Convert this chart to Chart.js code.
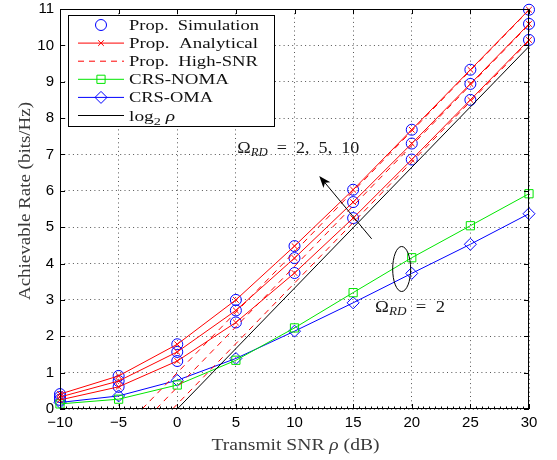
<!DOCTYPE html>
<html>
<head>
<meta charset="utf-8">
<script src="https://cdn.jsdelivr.net/npm/chart.js@4.4.1/dist/chart.umd.min.js"></script>
<style>
  html, body { margin: 0; padding: 0; background: #fff; }
</style>
</head>
<body>
<canvas id="rateChart" width="557" height="460"></canvas>
<script>
// values
const snrDb = [-10, -5, 0, 5, 10, 15, 20, 25, 30];
const propOmega2 = [0.25, 0.61, 1.32, 2.38, 3.74, 5.25, 6.86, 8.50, 10.15];
const propOmega5 = [0.33, 0.77, 1.57, 2.71, 4.15, 5.69, 7.30, 8.94, 10.59];
const propOmega10 = [0.41, 0.91, 1.78, 3.00, 4.48, 6.03, 7.68, 9.33, 10.98];
const crsNoma = [0.14, 0.27, 0.66, 1.34, 2.23, 3.20, 4.16, 5.04, 5.92];
const crsOma = [0.18, 0.36, 0.79, 1.39, 2.14, 2.92, 3.73, 4.53, 5.37];

// high-SNR asymptotes: where they leave the axis and where they end
const highSnrX2 = [-0.4, 30];
const highSnrY2 = [0, 10.12];
const highSnrX5 = [-1.8, 30];
const highSnrY5 = [0, 10.57];
const highSnrX10 = [-3.0, 30];
const highSnrY10 = [0, 10.97];
const log2X = [0, 30];
const log2Y = [0, 9.97];

const xTicks = [-10, -5, 0, 5, 10, 15, 20, 25, 30];
const yTicks = [0, 1, 2, 3, 4, 5, 6, 7, 8, 9, 10, 11];

const RED = '#ff0000', GREEN = '#00e600', BLUE = '#0000ff';
const SERIF = '"Liberation Serif", "Times New Roman", serif';

function pts(xs, ys) {
    return xs.map((x, i) => ({ x: x, y: ys[i] }));
}

function line(data, color, extra) {
    return Object.assign({
        data: data,
        showLine: true,
        borderColor: color,
        borderWidth: 1,
        pointRadius: 0,
        backgroundColor: color,
        clip: false
    }, extra || {});
}

const datasets = [];
[[highSnrX2, highSnrY2], [highSnrX5, highSnrY5], [highSnrX10, highSnrY10]].forEach(a => {
    datasets.push(line(pts(a[0], a[1]), RED, { borderDash: [6, 5] }));
});
datasets.push(line(pts(log2X, log2Y), '#000'));
[propOmega2, propOmega5, propOmega10].forEach(v => {
    datasets.push(line(pts(snrDb, v), RED, {
        pointStyle: 'crossRot', pointRadius: 4, pointBorderColor: RED, pointBorderWidth: 1
    }));
});
datasets.push(line(pts(snrDb, crsNoma), GREEN, {
    pointStyle: 'rect', pointRadius: 5.8, pointBackgroundColor: 'rgba(0,0,0,0)', pointBorderColor: GREEN
}));
datasets.push(line(pts(snrDb, crsOma), BLUE, {
    pointStyle: 'rectRot', pointRadius: 6, pointBackgroundColor: 'rgba(0,0,0,0)', pointBorderColor: BLUE
}));
[propOmega2, propOmega5, propOmega10].forEach(v => {
    datasets.push({
        data: pts(snrDb, v),
        showLine: false,
        pointStyle: 'circle',
        pointRadius: 5.5,
        pointBorderWidth: 1,
        pointBorderColor: BLUE,
        pointBackgroundColor: 'rgba(0,0,0,0)',
        clip: false
    });
});

// draws mixed-font text stretched to a given width
function drawRuns(ctx, runs, x, y, width, align) {
    ctx.save();
    let natural = 0;
    runs.forEach(r => { ctx.font = r[1]; natural += ctx.measureText(r[0]).width; });
    const sx = width ? width / natural : 1;
    ctx.translate(x, y);
    ctx.scale(sx, 1);
    let cx = align === 'center' ? -natural / 2 : 0;
    ctx.textBaseline = 'alphabetic';
    ctx.textAlign = 'left';
    runs.forEach(r => {
        ctx.font = r[1];
        ctx.fillText(r[0], cx, r[2] || 0);
        cx += ctx.measureText(r[0]).width;
    });
    ctx.restore();
}

const legendItems = [
    { runs: [['Prop.  Simulation', '15px ' + SERIF]], w: 130, marker: 'circle', r: 5.5, mc: BLUE },
    { runs: [['Prop.  Analytical', '15px ' + SERIF]], w: 129, line: RED, marker: 'crossRot', r: 4, mc: RED },
    { runs: [['Prop.  High-SNR', '15px ' + SERIF]], w: 129, line: RED, dash: [6, 5] },
    { runs: [['CRS-NOMA', '15px ' + SERIF]], w: 100, line: GREEN, marker: 'rect', r: 5.8, mc: GREEN },
    { runs: [['CRS-OMA', '15px ' + SERIF]], w: 84, line: BLUE, marker: 'rectRot', r: 6, mc: BLUE },
    { runs: [['log', '15px ' + SERIF], ['2', '11px ' + SERIF, 4], [' \u03c1', 'italic 15px ' + SERIF]], w: 46, line: '#000' }
];

const decorations = {
    id: 'decorations',
    afterDatasetsDraw(chart) {
        const ctx = chart.ctx;
        const a = chart.chartArea;
        const xs = chart.scales.x, ys = chart.scales.y;

        ctx.save();
        ctx.strokeStyle = '#000';
        ctx.lineWidth = 1;
        // box
        ctx.strokeRect(Math.round(a.left) + 0.5, Math.round(a.top) + 0.5,
            Math.round(a.right - a.left) - 1, Math.round(a.bottom - a.top) - 1);
        ctx.beginPath();
        ctx.moveTo(a.left, a.bottom - 0.5); ctx.lineTo(a.right, a.bottom - 0.5);
        ctx.moveTo(a.left + 0.5, a.top); ctx.lineTo(a.left + 0.5, a.bottom);
        ctx.stroke();
        // inward ticks
        ctx.beginPath();
        xTicks.forEach(v => {
            const px = Math.round(xs.getPixelForValue(v)) + 0.5;
            ctx.moveTo(px, a.bottom); ctx.lineTo(px, a.bottom - 5);
            ctx.moveTo(px, a.top); ctx.lineTo(px, a.top + 5);
        });
        yTicks.forEach(v => {
            const py = Math.round(ys.getPixelForValue(v)) + 0.5;
            ctx.moveTo(a.left, py); ctx.lineTo(a.left + 5, py);
            ctx.moveTo(a.right, py); ctx.lineTo(a.right - 5, py);
        });
        for (let v = -10; v <= 30; v += 0.5) {
            const px = Math.round(xs.getPixelForValue(v)) + 0.5;
            ctx.moveTo(px, a.bottom); ctx.lineTo(px, a.bottom - 2.5);
        }
        ctx.stroke();

        // axis titles
        ctx.fillStyle = '#3a3a3a';
        drawRuns(ctx, [['Transmit SNR ', '17px ' + SERIF], ['\u03c1', 'italic 17px ' + SERIF], [' (dB)', '17px ' + SERIF]],
            (a.left + a.right) / 2 + 1, 450, 168, 'center');
        ctx.save();
        ctx.translate(30, 201);
        ctx.rotate(-Math.PI / 2);
        drawRuns(ctx, [['Achievable Rate (bits/Hz)', '17px ' + SERIF]], 0, 0, 198, 'center');
        ctx.restore();

        // legend
        const lx = 68, ly = 15, lw = 206, lh = 111;
        ctx.fillStyle = '#fff';
        ctx.fillRect(lx, ly, lw, lh);
        ctx.strokeStyle = '#000';
        ctx.lineWidth = 1;
        ctx.strokeRect(lx + 0.5, ly + 0.5, lw, lh);
        legendItems.forEach((it, i) => {
            const cy = 25 + i * 18.1;
            if (it.line) {
                ctx.save();
                ctx.strokeStyle = it.line;
                ctx.setLineDash(it.dash || []);
                ctx.beginPath();
                ctx.moveTo(78, cy); ctx.lineTo(124, cy);
                ctx.stroke();
                ctx.restore();
            }
            if (it.marker) {
                ctx.save();
                ctx.strokeStyle = it.mc;
                ctx.fillStyle = 'rgba(0,0,0,0)';
                ctx.lineWidth = 1;
                Chart.helpers.drawPoint(ctx, { pointStyle: it.marker, radius: it.r, rotation: 0, borderWidth: 1 }, 101, cy);
                ctx.restore();
            }
            ctx.fillStyle = '#111';
            drawRuns(ctx, it.runs, 129, cy + 5, it.w);
        });

        // annotations, anchored in data coordinates
        ctx.strokeStyle = '#000';
        ctx.fillStyle = '#000';
        ctx.lineWidth = 1;
        const ax0 = xs.getPixelForValue(16.58), ay0 = ys.getPixelForValue(4.68);
        const ax1 = xs.getPixelForValue(12.11), ay1 = ys.getPixelForValue(6.41);
        const ang = Math.atan2(ay1 - ay0, ax1 - ax0);
        ctx.beginPath();
        ctx.moveTo(ax0, ay0);
        ctx.lineTo(ax1 - 8 * Math.cos(ang), ay1 - 8 * Math.sin(ang));
        ctx.stroke();
        ctx.beginPath();
        ctx.moveTo(ax1, ay1);
        ctx.lineTo(ax1 - 12 * Math.cos(ang) + 4.5 * Math.sin(ang), ay1 - 12 * Math.sin(ang) - 4.5 * Math.cos(ang));
        ctx.lineTo(ax1 - 9 * Math.cos(ang), ay1 - 9 * Math.sin(ang));
        ctx.lineTo(ax1 - 12 * Math.cos(ang) - 4.5 * Math.sin(ang), ay1 - 12 * Math.sin(ang) + 4.5 * Math.cos(ang));
        ctx.closePath();
        ctx.fill();

        ctx.beginPath();
        ctx.ellipse(xs.getPixelForValue(19.14), ys.getPixelForValue(3.85), 9, 22.5, 0, 0, Math.PI * 2);
        ctx.stroke();

        ctx.fillStyle = '#1a1a1a';
        drawRuns(ctx, [['\u03a9', '17px ' + SERIF], ['RD', 'italic 12px ' + SERIF, 3], ['  =  2,  5,  10', '17px ' + SERIF]],
            xs.getPixelForValue(5.12), ys.getPixelForValue(7.03), 122);
        drawRuns(ctx, [['\u03a9', '17px ' + SERIF], ['RD', 'italic 12px ' + SERIF, 3], ['  =  2', '17px ' + SERIF]],
            xs.getPixelForValue(16.87), ys.getPixelForValue(2.68), 70);
        ctx.restore();
    }
};

const tickFont = { family: '"Liberation Sans", Arial, sans-serif', size: 15 };

new Chart(document.getElementById('rateChart'), {
    type: 'scatter',
    data: { datasets: datasets },
    options: {
        responsive: false,
        animation: false,
        layout: { padding: { top: 9, right: 28, left: 0, bottom: 0 } },
        plugins: { legend: { display: false }, tooltip: { enabled: false } },
        elements: { line: { tension: 0 } },
        scales: {
            x: {
                type: 'linear', min: -10, max: 30,
                afterBuildTicks: s => { s.ticks = xTicks.map(v => ({ value: v })); },
                afterFit: s => { s.height = 51; s.paddingLeft = 0; s.paddingRight = 0; },
                grid: { color: '#555', lineWidth: 1, drawTicks: false },
                border: { display: false, dash: [1, 3.3] },
                ticks: {
                    padding: 5, color: '#000', font: tickFont, maxRotation: 0,
                    callback: v => v < 0 ? '\u2212' + (-v) : String(v)
                }
            },
            y: {
                type: 'linear', min: 0, max: 11,
                afterBuildTicks: s => { s.ticks = yTicks.map(v => ({ value: v })); },
                afterFit: s => { s.width = 60; s.paddingTop = 0; s.paddingBottom = 0; },
                grid: { color: '#555', lineWidth: 1, drawTicks: false },
                border: { display: false, dash: [1, 3.3] },
                ticks: { padding: 6, color: '#000', font: tickFont }
            }
        }
    },
    plugins: [decorations]
});
</script>
</body>
</html>
